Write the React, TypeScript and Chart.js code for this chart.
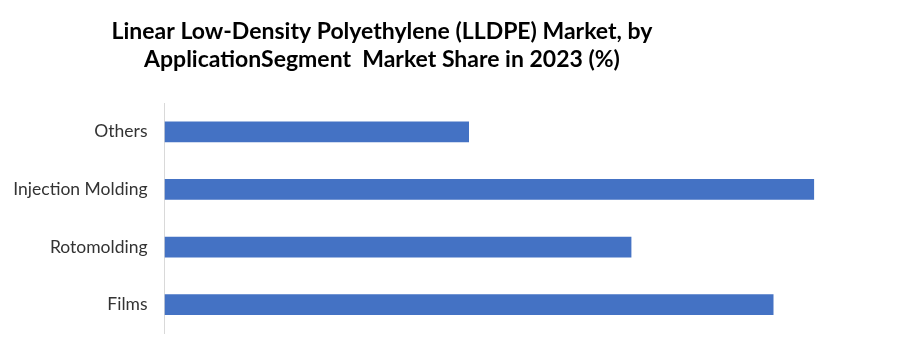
import React, { useEffect, useRef } from "react";
import { Chart, registerables } from "chart.js";

Chart.register(...registerables);

const TITLE_LINES = [
  "Linear Low-Density Polyethylene (LLDPE) Market, by",
  "ApplicationSegment  Market Share in 2023 (%)",
];
const CATEGORIES = ["Others", "Injection Molding", "Rotomolding", "Films"];
const SHARE_VALUES = [15, 32, 23, 30];
const X_MAX = 35;

const FONT_FAMILY = "Lato, 'Liberation Sans', sans-serif";

const titlePlugin = {
  id: "customTitle",
  afterDraw(chart: any) {
    const ctx = chart.ctx;
    ctx.save();
    ctx.fillStyle = "#000000";
    ctx.font = `bold 23px ${FONT_FAMILY}`;
    ctx.textAlign = "center";
    ctx.textBaseline = "alphabetic";
    TITLE_LINES.forEach((line, i) => {
      ctx.fillText(line, 382, 39 + i * 28);
    });
    ctx.restore();
  },
};

export default function App() {
  const canvasRef = useRef<HTMLCanvasElement | null>(null);

  useEffect(() => {
    const canvas = canvasRef.current;
    if (!canvas) return;
    const chart = new Chart(canvas, {
      type: "bar",
      data: {
        labels: CATEGORIES,
        datasets: [
          {
            label: "Market Share (%)",
            data: SHARE_VALUES,
            backgroundColor: "#4472C4",
            borderWidth: 0,
            barPercentage: 0.36,
            categoryPercentage: 1,
          },
        ],
      },
      options: {
        indexAxis: "y",
        responsive: false,
        animation: false,
        layout: { padding: { top: 103, bottom: 23, left: 8, right: 22 } },
        plugins: {
          legend: { display: false },
          title: { display: false },
          tooltip: { enabled: false },
        },
        scales: {
          x: {
            display: false,
            min: 0,
            max: X_MAX,
          },
          y: {
            grid: { display: false, drawTicks: false },
            border: { display: true, color: "#d9d9d9", width: 1 },
            ticks: {
              color: "#333333",
              font: { family: FONT_FAMILY, size: 17.5 },
              padding: 17,
            },
            afterFit(scale: any) {
              scale.width = 156.5;
            },
          },
        },
      },
      plugins: [titlePlugin],
    });
    return () => chart.destroy();
  }, []);

  return (
    <div style={{ position: "absolute", left: 0, top: 0, width: 897, height: 361, background: "#ffffff" }}>
      <canvas ref={canvasRef} width={897} height={361} style={{ width: 897, height: 361 }} />
    </div>
  );
}
